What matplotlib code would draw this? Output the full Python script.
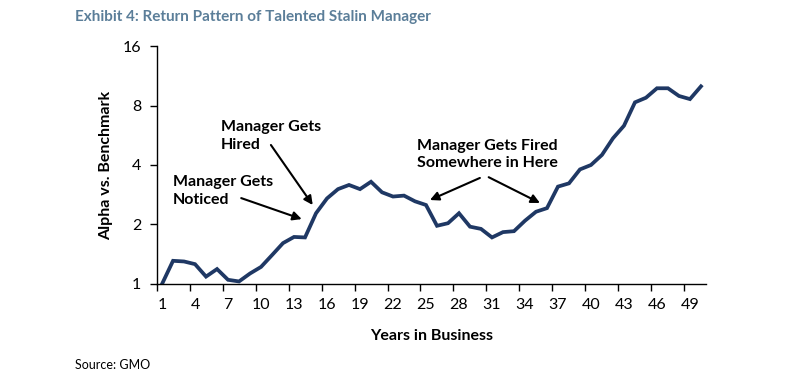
import matplotlib
matplotlib.use("Agg")
import matplotlib.pyplot as plt
from matplotlib.ticker import FixedLocator, NullFormatter, NullLocator

plt.rcParams["font.family"] = ["Lato", "DejaVu Sans"]

# Data
years = list(range(1, 51))
alpha = [1.00, 1.31, 1.30, 1.26, 1.09, 1.19, 1.05, 1.03, 1.13, 1.22,
         1.40, 1.61, 1.73, 1.72, 2.28, 2.71, 3.02, 3.17, 3.02, 3.29,
         2.91, 2.77, 2.80, 2.62, 2.51, 1.97, 2.03, 2.28, 1.95, 1.90,
         1.72, 1.83, 1.85, 2.09, 2.32, 2.42, 3.11, 3.23, 3.80, 4.00,
         4.50, 5.46, 6.32, 8.30, 8.76, 9.78, 9.78, 8.94, 8.62, 10.0]
y_ticks = [1, 2, 4, 8, 16]
x_labels = list(range(1, 51, 3))

navy = "#1F3864"
title_col = "#5B7E99"

fig = plt.figure(figsize=(7.97, 3.75), dpi=100)
ax = fig.add_axes([0.1964, 0.2427, 0.69, 0.6346])

ax.plot(years, alpha, color=navy, lw=2.7, solid_joinstyle="miter")

ax.set_yscale("log", base=2)
ax.set_ylim(1, 16)
ax.yaxis.set_major_locator(FixedLocator(y_ticks))
ax.yaxis.set_minor_locator(NullLocator())
ax.set_yticks(y_ticks)
ax.set_yticklabels([str(v) for v in y_ticks])

# category style x axis: labels at centres, ticks between categories
ax.set_xlim(0.5, 50.5)
ax.set_xticks([x - 0.5 for x in x_labels])
ax.xaxis.set_major_formatter(NullFormatter())
ax.set_xticks(x_labels, minor=True)
ax.set_xticklabels([str(v) for v in x_labels], minor=True)
ax.tick_params(axis="x", which="minor", length=0, labelsize=11.5, pad=10)
ax.tick_params(axis="x", which="major", length=5, width=1, direction="out")
ax.tick_params(axis="y", length=5, width=1, direction="out", labelsize=11.5, pad=6)

for s in ["top", "right"]:
    ax.spines[s].set_visible(False)
ax.spines["left"].set_linewidth(1)
ax.spines["bottom"].set_linewidth(1)

ax.set_xlabel("Years in Business", fontsize=11.5, fontweight="bold", labelpad=12)
ax.set_ylabel("Alpha vs. Benchmark", fontsize=11.5, fontweight="bold", labelpad=7)

# annotations
arrow = dict(arrowstyle="-|>", color="black", lw=1.5, mutation_scale=13,
             shrinkA=0, shrinkB=0)
ax.text(1.97, 2.95, "Manager Gets\nNoticed", fontsize=11.5, fontweight="bold",
        va="center", ha="left", linespacing=1.3)
ax.annotate("", xy=(13.7, 2.13), xytext=(8.2, 2.72), arrowprops=arrow)

ax.text(6.36, 5.61, "Manager Gets\nHired", fontsize=11.5, fontweight="bold",
        va="center", ha="left", linespacing=1.3)
ax.annotate("", xy=(14.7, 2.51), xytext=(10.9, 5.05), arrowprops=arrow)

ax.text(24.15, 4.52, "Manager Gets Fired\nSomewhere in Here", fontsize=11.5,
        fontweight="bold", va="center", ha="left", linespacing=1.3)
ax.annotate("", xy=(25.36, 2.66), xytext=(29.9, 3.44), arrowprops=arrow)
ax.annotate("", xy=(35.36, 2.57), xytext=(30.7, 3.47), arrowprops=arrow)

fig.text(75 / 797, 1 - 17 / 375, "Exhibit 4: Return Pattern of Talented Stalin Manager",
         fontsize=11, fontweight="bold", color=title_col, va="center", ha="left")
fig.text(75 / 797, 1 - 365 / 375, "Source: GMO", fontsize=9, va="center", ha="left")

fig.savefig("out.png", dpi=100)
